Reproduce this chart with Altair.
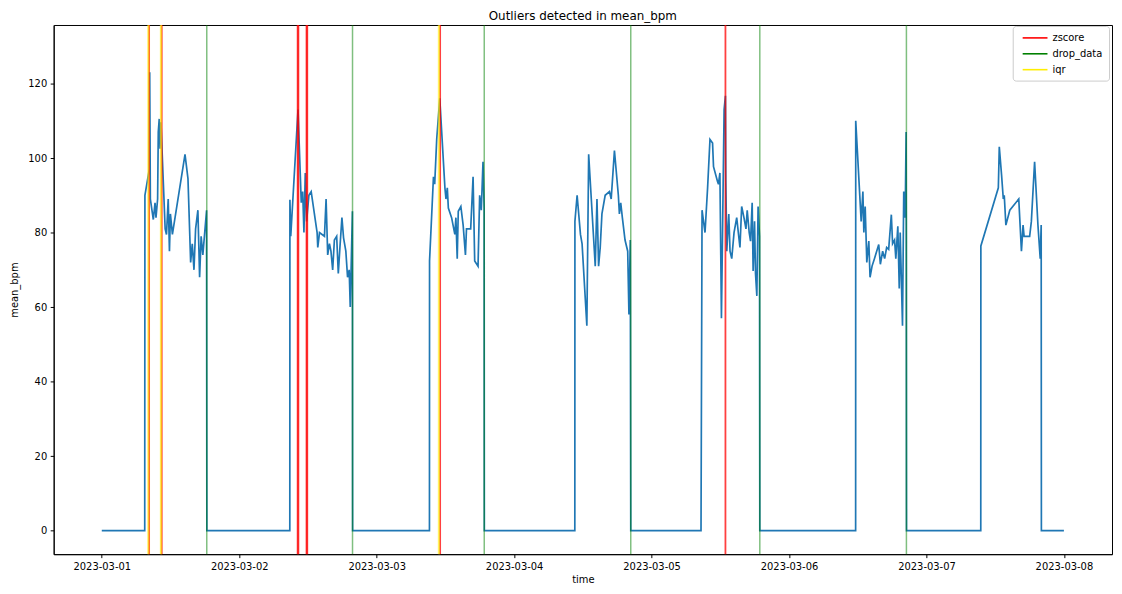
import altair as alt
import pandas as pd

# ---------------- data ----------------
day_dates = ["2023-03-01", "2023-03-02", "2023-03-03", "2023-03-04",
             "2023-03-05", "2023-03-06", "2023-03-07"]

day1_times = ["00:00", "07:30", "07:32", "08:18", "08:22", "08:29", "09:00", "09:18", "09:28",
              "09:45", "09:52", "10:02", "10:10", "10:20", "11:04", "11:18", "11:36", "11:49",
              "11:59", "12:20", "14:32", "15:03", "15:31", "15:48", "16:06", "16:23", "16:47",
              "17:05", "17:21", "17:39", "18:18", "18:21"]
day1_bpm = [0, 0, 90, 97, 123, 89, 83.5, 88, 84,
            89, 107, 110.5, 102.5, 109.6, 81, 79.5, 89, 75,
            85, 79.5, 101, 94.5, 72, 77, 70, 81, 86,
            68, 79, 74, 86, 0]

day2_times = ["08:50", "08:51", "09:00", "10:16", "10:50", "11:05", "11:18", "11:32", "11:46",
              "12:10", "12:34", "13:36", "13:43", "14:01", "14:53", "15:10", "15:27", "15:45",
              "16:01", "16:19", "16:37", "17:01", "17:18", "17:35", "17:56", "18:13", "18:37",
              "18:55", "19:12", "19:23", "19:46", "19:48"]
day2_bpm = [0, 88.8, 79, 113, 88, 91, 80, 96, 83,
            90, 91, 80, 76, 80, 79, 89, 74, 77,
            75, 70, 78, 79, 69, 76, 84, 78.6, 75,
            68, 70, 60, 85.7, 0]

day3_times = ["09:13", "09:14", "09:55", "10:08", "10:29", "11:01", "11:55", "12:06", "12:20",
              "12:31", "13:05", "13:39", "13:50", "14:04", "14:15", "14:42", "15:06", "15:30",
              "15:41", "16:25", "16:50", "17:07", "17:42", "17:59", "18:16", "18:34", "18:46",
              "18:48"]
day3_bpm = [0, 72.4, 95, 93, 105, 116, 92, 89, 92,
            86.6, 84, 79.5, 84, 73, 85.7, 87, 82, 74,
            81, 81, 95, 72.4, 71, 90, 86, 99, 86.6,
            0]

day4_times = ["10:36", "10:37", "11:00", "11:35", "11:52", "12:42", "13:01", "14:10", "14:28",
              "14:45", "15:02", "15:20", "15:54", "16:39", "16:57", "17:31", "18:12", "18:23",
              "18:37", "18:54", "19:22", "19:50", "20:03", "20:17", "20:22"]
day4_bpm = [0, 83, 90, 79.5, 77, 55, 101, 71, 89,
            71, 76, 85, 90, 91, 89, 102, 90, 85,
            88, 84, 78, 75, 58, 78, 0]

day5_times = ["08:38", "08:49", "09:20", "09:47", "10:12", "10:39", "10:49", "11:31", "11:41",
              "11:56", "12:12", "12:40", "12:54", "12:58", "13:08", "13:29", "13:42", "14:00",
              "14:24", "14:52", "15:26", "15:44", "16:08", "16:29", "16:42", "17:03", "17:17",
              "17:34", "17:44", "17:59", "18:09", "18:23", "18:36", "18:51", "18:54"]
day5_bpm = [0, 86, 80, 92, 105, 104, 97.7, 93.7, 93,
            96, 57, 113, 116.7, 93.7, 75, 85, 75, 73,
            80, 84, 76, 87, 84, 81, 86, 80, 77.7,
            88, 69.7, 83, 69, 63, 87, 79, 0]

day6_times = ["11:38", "11:39", "12:36", "12:54", "13:04", "13:18", "13:35", "13:56", "14:09",
              "14:30", "14:55", "15:40", "15:57", "16:21", "16:42", "17:03", "17:24", "17:52",
              "18:05", "18:26", "18:39", "19:00", "19:15", "19:25", "19:49", "20:02", "20:17",
              "20:27", "20:29", "20:31"]
day6_bpm = [0, 110, 83, 91, 80, 87, 72, 77.7, 68,
            71, 73, 76.8, 71.5, 75, 73, 76, 75.5, 84.8,
            77, 78, 73, 81.7, 65, 80, 55, 91, 84,
            107, 77.7, 0]

day7_times = ["09:29", "09:30", "12:33", "12:43", "13:07", "13:25", "13:35", "13:52", "14:33",
              "16:07", "16:35", "16:52", "17:03", "18:01", "18:19", "18:53", "19:28", "19:52",
              "20:02", "20:04"]
day7_bpm = [0, 76.4, 92, 103, 95.4, 89, 90, 82, 86,
            89, 75, 82, 79, 79, 83, 99, 82, 73,
            82, 0]

end_time = "2023-03-08T00:00:00"
end_bpm = 0

# outlier markers (vertical lines)
zscore_times = ["2023-03-01T08:16:00", "2023-03-01T10:28:00",
                "2023-03-02T10:12:00", "2023-03-02T10:20:00",
                "2023-03-02T11:45:00", "2023-03-02T11:53:00",
                "2023-03-03T11:05:00", "2023-03-05T12:54:00"]
drop_times = ["2023-03-01T18:20:00", "2023-03-02T19:47:00", "2023-03-03T18:47:00",
              "2023-03-04T20:22:00", "2023-03-05T18:54:00", "2023-03-06T20:30:00"]
iqr_times = ["2023-03-01T08:08:00", "2023-03-01T10:20:00", "2023-03-03T10:52:00"]

legend_labels = ["zscore", "drop_data", "iqr"]
legend_colors = ["#ff0000", "#008000", "#ffee00"]
x_tick_labels = ["2023-03-01", "2023-03-02", "2023-03-03", "2023-03-04",
                 "2023-03-05", "2023-03-06", "2023-03-07", "2023-03-08"]
y_ticks = [0, 20, 40, 60, 80, 100, 120]

# ---------------- build tables ----------------
all_times = [day1_times, day2_times, day3_times, day4_times, day5_times, day6_times, day7_times]
all_bpm = [day1_bpm, day2_bpm, day3_bpm, day4_bpm, day5_bpm, day6_bpm, day7_bpm]
rows = []
for d, ts, vs in zip(day_dates, all_times, all_bpm):
    for t, v in zip(ts, vs):
        rows.append({"time": f"{d}T{t}:00", "mean_bpm": v})
rows.append({"time": end_time, "mean_bpm": end_bpm})
df = pd.DataFrame(rows)

z_df = pd.DataFrame({"time": zscore_times, "kind": "zscore"})
d_df = pd.DataFrame({"time": drop_times, "kind": "drop_data"})
i_df = pd.DataFrame({"time": iqr_times, "kind": "iqr"})

FONT = "DejaVu Sans"


def dt(s, h=0, m=0):
    y, mo, da = [int(p) for p in s.split("-")]
    return alt.DateTime(year=y, month=mo, date=da, hours=h, minutes=m)


x_scale = alt.Scale(domain=[dt("2023-02-28", 15, 36), dt("2023-03-08", 8, 24)])
x_axis = alt.Axis(values=[dt(s) for s in x_tick_labels], format="%Y-%m-%d",
                  title="time", labelAngle=0, labelFlush=False)
y_scale = alt.Scale(domain=[-6.3, 135.7], nice=False, zero=False)
y_axis = alt.Axis(values=y_ticks, title="mean_bpm", titlePadding=8)

color_scale = alt.Scale(domain=legend_labels, range=legend_colors)
legend = alt.Legend(title=None, orient="none", legendX=966, legendY=1,
                    symbolType="M-0.4,0L4.6,0", symbolSize=100, symbolStrokeWidth=1.6,
                    labelFont=FONT, labelFontSize=10, labelColor="black", labelOffset=22,
                    padding=6, rowPadding=5, strokeColor="#cccccc", fillColor="white",
                    cornerRadius=3, symbolOpacity=1)

line = alt.Chart(df).mark_line(color="#1f77b4", strokeWidth=1.7).encode(
    x=alt.X("time:T", scale=x_scale, axis=x_axis),
    y=alt.Y("mean_bpm:Q", scale=y_scale, axis=y_axis),
)

z_rules = alt.Chart(z_df).mark_rule(strokeWidth=1.8, opacity=0.75).encode(
    x=alt.X("time:T"),
    color=alt.Color("kind:N", scale=color_scale, legend=legend),
)
d_rules = alt.Chart(d_df).mark_rule(strokeWidth=1.5, opacity=0.5).encode(
    x=alt.X("time:T"),
    color=alt.Color("kind:N", scale=color_scale, legend=legend),
)
i_rules = alt.Chart(i_df).mark_rule(strokeWidth=2.2, opacity=0.62).encode(
    x=alt.X("time:T"),
    color=alt.Color("kind:N", scale=color_scale, legend=legend),
)

chart = alt.layer(line, z_rules, d_rules, i_rules).properties(
    width=1066,
    height=533,
    autosize=alt.AutoSizeParams(type="none"),
    padding={"left": 46, "top": 15, "right": 2, "bottom": 38},
    title=alt.Title("Outliers detected in mean_bpm", font=FONT, fontSize=12,
                    fontWeight="normal", color="black", anchor="middle", offset=1),
).configure_view(
    stroke="black", strokeWidth=1
).configure_axis(
    grid=False, domainColor="black", tickColor="black", labelColor="black",
    titleColor="black", labelFont=FONT, titleFont=FONT, labelFontSize=10,
    titleFontSize=10, titleFontWeight="normal", tickSize=3.5, labelPadding=3.5,
    domainWidth=1, tickWidth=1
)

chart.save("out.html", embed_options={"renderer": "svg", "actions": False})
